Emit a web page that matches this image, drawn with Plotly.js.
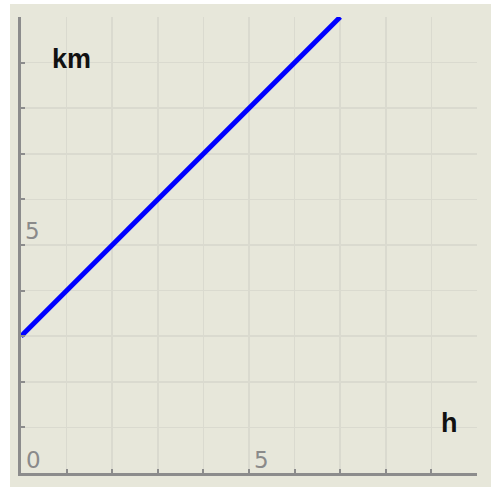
<!DOCTYPE html>
<html>
<head>
<meta charset="utf-8">
<script src="https://cdn.plot.ly/plotly-3.0.1.min.js"></script>
<style>html,body{margin:0;padding:0;background:#fff;}#chart{width:491px;height:487px;}</style>
</head>
<body>
<div id="chart"></div>
<script>
var hours = [0, 7];
var km = [3, 10];
var xTickVals = [0, 5];
var xTickText = ['0', '5'];
var yTickVals = [5];
var yTickText = ['5'];
var xLabel = 'h';
var yLabel = 'km';

var bg = '#e7e7da';
var axisCol = '#8c8c8c';
var gridCol = '#dadacf';
var tickFont = {family: 'DejaVu Sans', size: 23, color: '#8a8a8a'};

function axis() {
  return {
    range: [0, 10],
    tickmode: 'linear',
    tick0: 0,
    dtick: 1,
    showticklabels: false,
    ticks: 'inside',
    ticklen: 4,
    tickwidth: 2,
    tickcolor: axisCol,
    showgrid: true,
    gridcolor: gridCol,
    gridwidth: 1.5,
    showline: true,
    linecolor: axisCol,
    linewidth: 3,
    zeroline: false,
    fixedrange: true
  };
}

var annotations = [];
xTickVals.forEach(function (v, i) {
  annotations.push({text: xTickText[i], xref: 'x', yref: 'y', x: v, y: 0, xanchor: 'left', yanchor: 'bottom', xshift: 3, yshift: -2, showarrow: false, font: tickFont});
});
yTickVals.forEach(function (v, i) {
  annotations.push({text: yTickText[i], xref: 'x', yref: 'y', x: 0, y: v, xanchor: 'left', yanchor: 'bottom', xshift: 2, yshift: -1, showarrow: false, font: tickFont});
});
annotations.push({text: '<b>' + yLabel + '</b>', xref: 'paper', yref: 'paper', x: 0.0635, y: 0.908, xanchor: 'left', yanchor: 'middle', showarrow: false, font: {family: 'Liberation Sans', size: 27, color: '#111'}});
annotations.push({text: '<b>' + xLabel + '</b>', xref: 'paper', yref: 'paper', x: 0.916, y: 0.110, xanchor: 'left', yanchor: 'middle', showarrow: false, font: {family: 'Liberation Sans', size: 27, color: '#111'}});

var layout = {
  width: 491, height: 487,
  margin: {l: 21, r: 14, t: 17, b: 14},
  paper_bgcolor: '#ffffff',
  plot_bgcolor: bg,
  showlegend: false,
  xaxis: axis(),
  yaxis: axis(),
  shapes: [{type: 'rect', xref: 'paper', yref: 'paper', x0: -11/456, x1: 1 + 14/456, y0: -14/456, y1: 1 + 13/456, fillcolor: bg, line: {width: 0}, layer: 'below'}],
  annotations: annotations
};

var trace = {x: hours, y: km, type: 'scatter', mode: 'lines', line: {color: '#0000ff', width: 5}, hoverinfo: 'skip'};

Plotly.newPlot('chart', [trace], layout, {displayModeBar: false, staticPlot: true});
</script>
</body>
</html>
